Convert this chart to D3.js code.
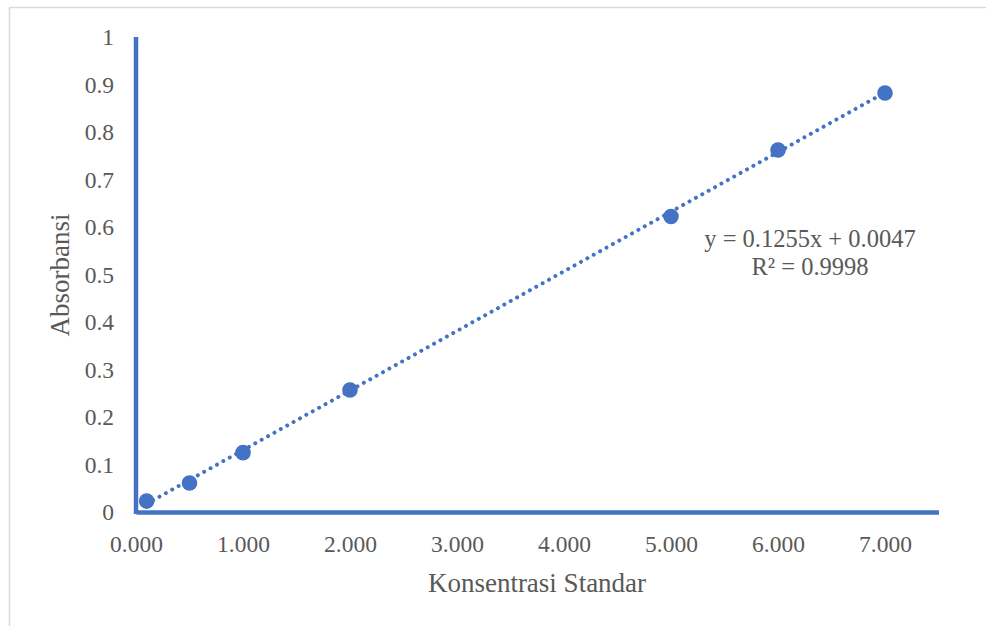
<!DOCTYPE html>
<html>
<head>
<meta charset="utf-8">
<script src="https://cdn.jsdelivr.net/npm/d3@7"></script>
<style>
  body { margin: 0; background: #fff; }
  text { font-family: "Liberation Serif", "DejaVu Serif", serif; fill: #595959; }
</style>
</head>
<body>
<div id="vis1"></div>
<script>
// standard curve data
let konsentrasi = [0.1, 0.5, 1, 2, 5, 6, 7];
let absorbansi = [0.023, 0.061, 0.125, 0.257, 0.622, 0.762, 0.882];
let xTicks = [0, 1, 2, 3, 4, 5, 6, 7];
let yTicks = [0, 0.1, 0.2, 0.3, 0.4, 0.5, 0.6, 0.7, 0.8, 0.9, 1];
let slope = 0.1255, intercept = 0.0047, r2 = 0.9998;

let width = 986, height = 626;
let blue = '#4472C4';

let svg = d3.select('#vis1')
  .append('svg')
  .attr('width', width)
  .attr('height', height);

// chart area border (only top and left visible)
svg.append('path')
  .attr('d', 'M9.5,' + height + 'V7.5H' + width)
  .attr('fill', 'none')
  .attr('stroke', '#d9d9d9')
  .attr('stroke-width', 1.5);

let x = d3.scaleLinear().domain([0, 7.5]).range([136, 938.5]);
let y = d3.scaleLinear().domain([0, 1]).range([512, 37]);

// x axis
let gx = svg.append('g')
  .attr('transform', 'translate(0,' + y(0) + ')')
  .call(d3.axisBottom(x).tickValues(xTicks).tickSize(0).tickPadding(0).tickFormat(d3.format('.3f')));
gx.select('.domain').attr('stroke', blue).attr('stroke-width', 4.5);
gx.selectAll('text')
  .attr('dy', null)
  .attr('y', 40)
  .attr('font-size', 23.5)
  .attr('font-family', null)
  .attr('fill', null);

// y axis
let gy = svg.append('g')
  .attr('transform', 'translate(' + x(0) + ',0)')
  .call(d3.axisLeft(y).tickValues(yTicks).tickSize(0).tickPadding(22).tickFormat(d => d3.format('')(+d.toFixed(1))));
gy.select('.domain').attr('stroke', blue).attr('stroke-width', 4.5).attr('d', 'M0,' + (y(0) + 2) + 'V' + y(1));
gy.selectAll('text')
  .attr('font-size', 23.5)
  .attr('font-family', null)
  .attr('fill', null);

// trendline (dotted)
let xMin = d3.min(konsentrasi), xMax = d3.max(konsentrasi);
svg.append('line')
  .attr('x1', x(xMin)).attr('y1', y(slope * xMin + intercept))
  .attr('x2', x(xMax)).attr('y2', y(slope * xMax + intercept))
  .attr('stroke', blue)
  .attr('stroke-width', 4)
  .attr('stroke-linecap', 'round')
  .attr('stroke-dasharray', '0.01 7.3');

// points
svg.selectAll('circle.pt')
  .data(konsentrasi)
  .enter()
  .append('circle')
  .attr('class', 'pt')
  .attr('cx', d => x(d))
  .attr('cy', (d, i) => y(absorbansi[i]))
  .attr('r', 7.8)
  .attr('fill', blue);

// equation label
svg.append('text')
  .attr('x', 810).attr('y', 247)
  .attr('text-anchor', 'middle')
  .attr('font-size', 24.5)
  .text('y = ' + slope + 'x + ' + intercept);
svg.append('text')
  .attr('x', 810).attr('y', 275)
  .attr('text-anchor', 'middle')
  .attr('font-size', 24.5)
  .text('R² = ' + r2);

// axis titles
svg.append('text')
  .attr('transform', 'translate(69,275) rotate(-90)')
  .attr('text-anchor', 'middle')
  .attr('font-size', 27)
  .text('Absorbansi');
svg.append('text')
  .attr('x', 537).attr('y', 592)
  .attr('text-anchor', 'middle')
  .attr('font-size', 27)
  .text('Konsentrasi Standar');
</script>
</body>
</html>
